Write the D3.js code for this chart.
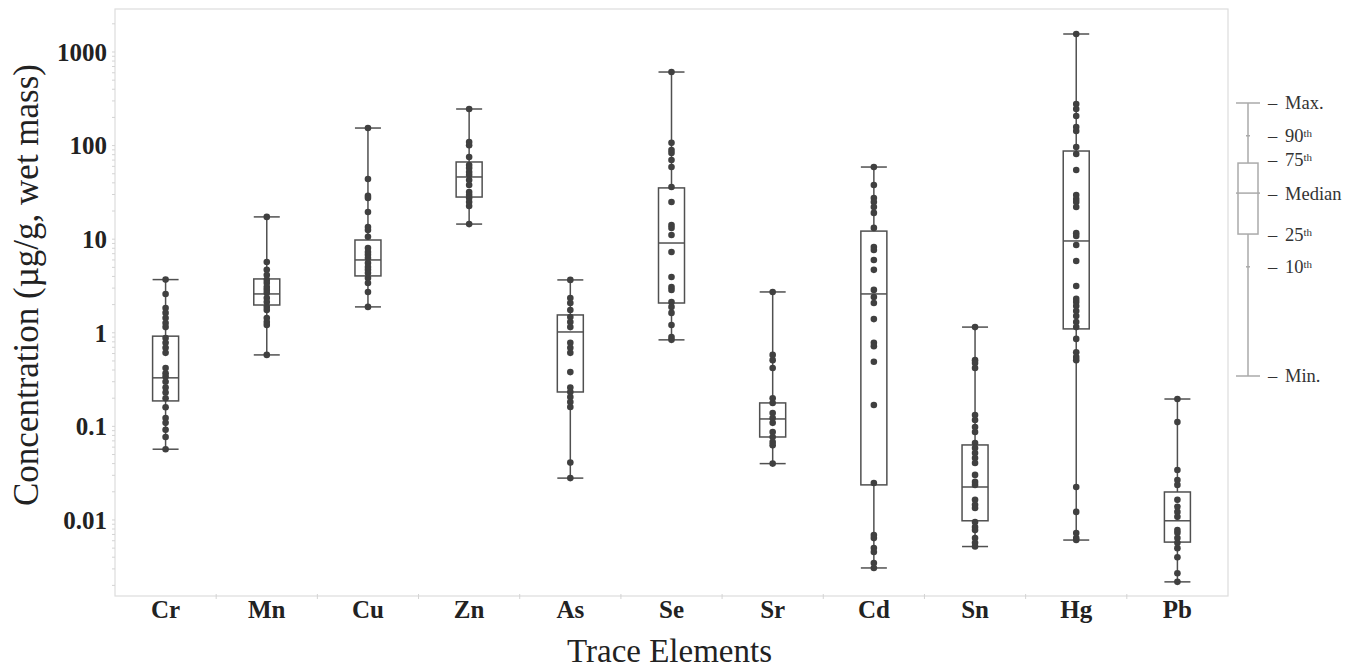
<!DOCTYPE html>
<html>
<head>
<meta charset="utf-8">
<script src="https://cdn.jsdelivr.net/npm/d3@7"></script>
<style>
  body { margin: 0; background: #fff; }
  svg { display: block; }
  text { font-family: "Liberation Serif", "Times New Roman", serif; fill: #222; }
</style>
</head>
<body>
<div id="chart"></div>
<script>
// trace elements on the x axis
var elements = ['Cr', 'Mn', 'Cu', 'Zn', 'As', 'Se', 'Sr', 'Cd', 'Sn', 'Hg', 'Pb'];

// box stats, same order as elements (ug/g wet mass)
var mins    = [0.057, 0.58, 1.89, 14.5, 0.028, 0.84, 0.04, 0.00307, 0.0052, 0.0061, 0.00218];
var q1s     = [0.187, 1.98, 4.05, 28.2, 0.233, 2.08, 0.077, 0.0237, 0.0098, 1.1, 0.0058];
var medians = [0.33, 2.6, 6.0, 46.2, 1.02, 9.1, 0.12, 2.6, 0.0225, 9.57, 0.0098];
var q3s     = [0.92, 3.76, 9.8, 66.8, 1.55, 35.3, 0.178, 12.2, 0.0633, 87.5, 0.0199];
var maxs    = [3.7, 17.3, 154, 246, 3.67, 611, 2.73, 59, 1.15, 1557, 0.196];

// individual samples
var crPts = [3.7, 2.6, 1.84, 1.63, 1.44, 1.27, 1.15, 0.88, 0.78, 0.69, 0.61, 0.42, 0.37, 0.34, 0.30, 0.26, 0.23, 0.20, 0.16, 0.123, 0.109, 0.092, 0.077, 0.057];
var mnPts = [17.3, 5.7, 4.7, 4.15, 3.67, 3.4, 3.08, 2.87, 2.66, 2.35, 2.13, 1.89, 1.75, 1.44, 1.30, 1.21, 0.58];
var cuPts = [154, 44, 29, 27.5, 19.5, 13.5, 12.5, 10.6, 8.05, 7.3, 6.8, 6.3, 5.57, 5.05, 4.7, 4.35, 3.85, 3.4, 2.73, 1.89];
var znPts = [246, 109, 101, 75.5, 62, 57.6, 52.2, 48.5, 42.9, 37.9, 31.9, 29.6, 27.5, 25, 22.6, 14.5];
var asPts = [3.67, 2.35, 2.08, 1.75, 1.47, 1.30, 1.15, 0.78, 0.69, 0.61, 0.38, 0.26, 0.233, 0.206, 0.182, 0.161, 0.041, 0.028];
var sePts = [611, 107, 89.7, 83.4, 70.2, 59, 36.1, 25, 14.2, 13.2, 11.1, 7.3, 3.95, 3.08, 2.87, 2.13, 1.89, 1.63, 1.21, 0.9, 0.84];
var srPts = [2.73, 0.58, 0.51, 0.42, 0.20, 0.178, 0.139, 0.123, 0.109, 0.087, 0.077, 0.068, 0.063, 0.04];
var cdPts = [59, 37.9, 27.5, 25, 22.1, 19.1, 13.2, 8.25, 7.67, 6.0, 4.7, 2.87, 2.41, 2.08, 1.40, 0.78, 0.72, 0.49, 0.169, 0.0248, 0.0069, 0.0064, 0.00502, 0.00455, 0.00347, 0.00307];
var snPts = [1.15, 0.51, 0.475, 0.42, 0.132, 0.117, 0.0986, 0.087, 0.0665, 0.0588, 0.052, 0.046, 0.0406, 0.0303, 0.0255, 0.0237, 0.0164, 0.0145, 0.0134, 0.0095, 0.0084, 0.0078, 0.0064, 0.0057, 0.0052];
var hgPts = [1557, 278, 246, 207, 158, 143, 96.6, 81.3, 54.8, 29.6, 26.9, 25, 22.1, 11.6, 10.8, 8.67, 5.85, 3.16, 2.3, 2.13, 1.93, 1.71, 1.51, 1.30, 1.15, 0.86, 0.62, 0.55, 0.51, 0.0225, 0.0122, 0.00726, 0.0064, 0.0061];
var pbPts = [0.196, 0.111, 0.0342, 0.0267, 0.0237, 0.0164, 0.0138, 0.0122, 0.0108, 0.0078, 0.0073, 0.0064, 0.0057, 0.005, 0.004, 0.0027, 0.00218];
var allPts = [crPts, mnPts, cuPts, znPts, asPts, sePts, srPts, cdPts, snPts, hgPts, pbPts];

// y tick labels
var yTicks = [0.01, 0.1, 1, 10, 100, 1000];
var yTickLabels = ['0.01', '0.1', '1', '10', '100', '1000'];

// legend key (schematic percentiles)
var legendNames  = ['Max.', '90', '75', 'Median', '25', '10', 'Min.'];
var legendValues = [100, 88, 78, 67, 52, 40, 0];

var width = 1360, height = 670;
var plotL = 115, plotR = 1228, plotT = 9, plotB = 596;

var svg = d3.select('#chart').append('svg')
    .attr('width', width)
    .attr('height', height);

var x = d3.scaleBand().domain(elements).range([plotL, plotR]).padding(0);
var y = d3.scaleLog().domain([0.00154, 2880]).range([plotB, plotT]);

var boxW = 26;
var lineCol = '#505050';

// frame
svg.append('rect')
    .attr('x', plotL).attr('y', plotT)
    .attr('width', plotR - plotL).attr('height', plotB - plotT)
    .attr('fill', 'none').attr('stroke', '#ddd').attr('stroke-width', 1.2);

// minor y ticks
var minor = [];
for (var e = -3; e <= 3; e++) {
    for (var m = 1; m <= 9; m++) {
        var v = m * Math.pow(10, e);
        if (v > y.domain()[0] && v < y.domain()[1]) minor.push(v);
    }
}
svg.append('g').selectAll('line').data(minor).enter().append('line')
    .attr('x1', plotL - 3).attr('x2', plotL)
    .attr('y1', function(d){ return y(d); }).attr('y2', function(d){ return y(d); })
    .attr('stroke', '#d4d4d4');

// x tick marks at band edges
svg.append('g').selectAll('line').data(elements.slice(1)).enter().append('line')
    .attr('x1', function(d){ return x(d); }).attr('x2', function(d){ return x(d); })
    .attr('y1', plotB - 2).attr('y2', plotB + 3)
    .attr('stroke', '#d4d4d4');

// y tick labels
svg.append('g').selectAll('text').data(yTicks).enter().append('text')
    .attr('x', plotL - 8)
    .attr('y', function(d){ return y(d); })
    .attr('dy', '0.35em')
    .attr('text-anchor', 'end')
    .style('font-size', '25px')
    .style('font-weight', 'bold')
    .text(function(d, i){ return yTickLabels[i]; });

// x tick labels
svg.append('g').selectAll('text').data(elements).enter().append('text')
    .attr('x', function(d){ return x(d) + x.bandwidth() / 2; })
    .attr('y', 618)
    .attr('text-anchor', 'middle')
    .style('font-size', '25px')
    .style('font-weight', 'bold')
    .text(function(d){ return d; });

// axis titles
svg.append('text')
    .attr('x', (plotL + plotR) / 2 - 2)
    .attr('y', 662)
    .attr('text-anchor', 'middle')
    .style('font-size', '33px')
    .text('Trace Elements');

svg.append('text')
    .attr('transform', 'translate(38,285) rotate(-90)')
    .attr('text-anchor', 'middle')
    .style('font-size', '35px')
    .text('Concentration (\u00b5g/g, wet mass)');

// boxes
var g = svg.append('g').selectAll('g').data(elements).enter().append('g')
    .attr('transform', function(d){ return 'translate(' + (x(d) + x.bandwidth() / 2) + ',0)'; });

g.append('line')
    .attr('x1', 0).attr('x2', 0)
    .attr('y1', function(d, i){ return y(mins[i]); })
    .attr('y2', function(d, i){ return y(maxs[i]); })
    .attr('stroke', lineCol).attr('stroke-width', 1.5);

g.append('rect')
    .attr('x', -boxW / 2).attr('width', boxW)
    .attr('y', function(d, i){ return y(q3s[i]); })
    .attr('height', function(d, i){ return y(q1s[i]) - y(q3s[i]); })
    .attr('fill', '#fff').attr('stroke', lineCol).attr('stroke-width', 1.5);

[mins, maxs, medians].forEach(function(arr){
    g.append('line')
        .attr('x1', -boxW / 2).attr('x2', boxW / 2)
        .attr('y1', function(d, i){ return y(arr[i]); })
        .attr('y2', function(d, i){ return y(arr[i]); })
        .attr('stroke', lineCol).attr('stroke-width', 1.5);
});

g.selectAll('circle')
    .data(function(d, i){ return allPts[i]; })
    .enter().append('circle')
    .attr('cx', 0)
    .attr('cy', function(d){ return y(d); })
    .attr('r', 3.3)
    .attr('fill', '#404040');

// legend
var ly = d3.scaleLinear().domain([0, 100]).range([376, 103]);
var lx = 1248, lw = 20, legCol = '#aaa';
var leg = svg.append('g');
leg.append('line')
    .attr('x1', lx).attr('x2', lx)
    .attr('y1', ly(legendValues[6])).attr('y2', ly(legendValues[0]))
    .attr('stroke', legCol).attr('stroke-width', 1.5);
leg.append('rect')
    .attr('x', lx - lw / 2).attr('width', lw)
    .attr('y', ly(legendValues[2]))
    .attr('height', ly(legendValues[4]) - ly(legendValues[2]))
    .attr('fill', '#fff').attr('stroke', legCol).attr('stroke-width', 1.5);
[0, 3, 6].forEach(function(k){
    leg.append('line')
        .attr('x1', lx - lw / 2 - 2).attr('x2', lx + lw / 2 + 2)
        .attr('y1', ly(legendValues[k])).attr('y2', ly(legendValues[k]))
        .attr('stroke', legCol).attr('stroke-width', 1.5);
});
[1, 5].forEach(function(k){
    leg.append('line')
        .attr('x1', lx - 2).attr('x2', lx + 2)
        .attr('y1', ly(legendValues[k])).attr('y2', ly(legendValues[k]))
        .attr('stroke', legCol).attr('stroke-width', 1.5);
});

var lt = leg.selectAll('text').data(legendNames).enter().append('text')
    .attr('x', 1268)
    .attr('y', function(d, i){ return ly(legendValues[i]) + (i === 2 ? -4 : 0); })
    .attr('dy', '0.35em')
    .style('font-size', '18.5px')
    .style('fill', '#333');
lt.append('tspan').text('\u2013');
lt.append('tspan').attr('x', 1285).text(function(d){ return d; });
lt.filter(function(d){ return /^\d+$/.test(d); })
    .append('tspan')
    .attr('dy', '-0.45em')
    .style('font-size', '11px')
    .text('th');
</script>
</body>
</html>
